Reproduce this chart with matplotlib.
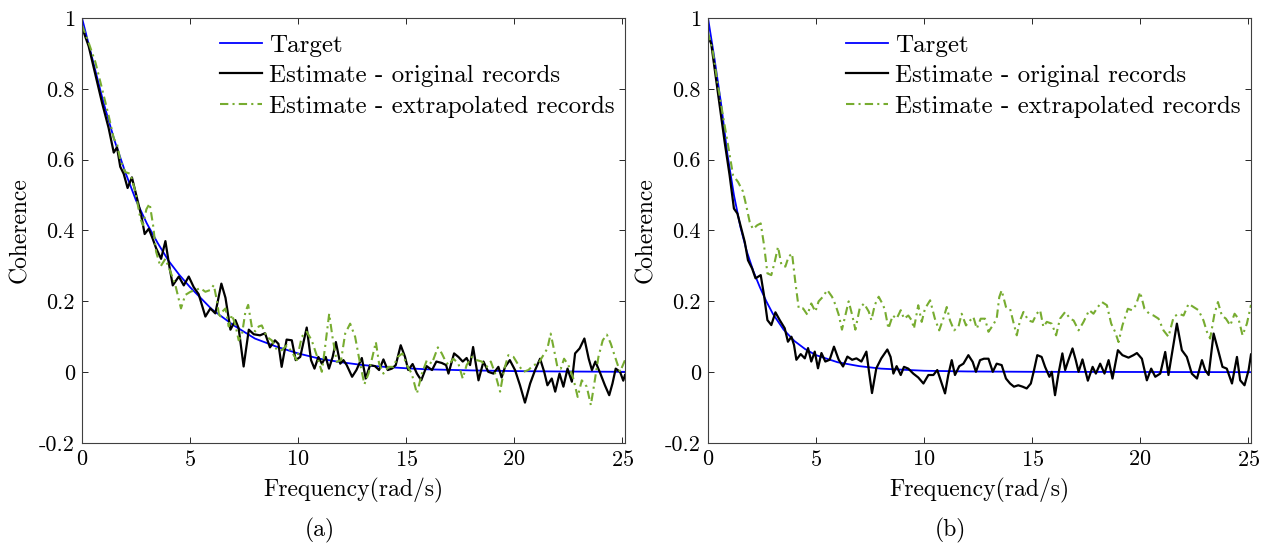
import matplotlib
matplotlib.use("Agg")
import matplotlib.pyplot as plt

plt.rcParams['font.family'] = ['cmr10', 'DejaVu Serif']
plt.rcParams['mathtext.fontset'] = 'cm'
plt.rcParams['axes.unicode_minus'] = False
plt.rcParams['axes.formatter.use_mathtext'] = True

# ---- (a) ----
w_tgt_a = [0, 0.5, 1, 1.5, 2, 2.5, 3, 3.5, 4, 4.5, 5, 6, 7, 8, 9, 10, 11, 12,
           13, 14, 15, 16, 18, 20, 22, 25.13]
tgt_a = [1.0, 0.88, 0.76, 0.655, 0.565, 0.485, 0.42, 0.365, 0.315, 0.275, 0.24,
         0.178, 0.133, 0.095, 0.072, 0.053, 0.038, 0.028, 0.02, 0.015, 0.011,
         0.008, 0.005, 0.003, 0.002, 0.001]

w_orig_a = [0, 0.31, 0.62, 0.93, 1.23, 1.47, 1.62, 1.77, 1.93, 2.11, 2.31, 2.55,
            2.75, 2.90, 3.09, 3.27, 3.43, 3.66, 3.86, 4.04, 4.20, 4.48, 4.71,
            4.94, 5.17, 5.40, 5.71, 5.94, 6.17, 6.45, 6.64, 6.87, 7.10, 7.25,
            7.48, 7.72, 7.95, 8.24, 8.47, 8.7, 8.93, 9.09, 9.24, 9.47, 9.71,
            9.89, 10.1, 10.4, 10.6, 10.76, 10.94, 11.1, 11.28, 11.43, 11.6,
            11.75, 11.95, 12.1, 12.25, 12.5, 12.7, 12.95, 13.13, 13.33, 13.56,
            13.75, 13.95, 14.15, 14.34, 14.52, 14.75, 14.95, 15.1, 15.3, 15.5,
            15.7, 15.95, 16.2, 16.4, 16.65, 16.85, 16.96, 17.22, 17.42, 17.62,
            17.8, 17.96, 18.1, 18.35, 18.58, 18.8, 19.04, 19.27, 19.42, 19.58,
            19.8, 20.04, 20.27, 20.5, 20.74, 20.97, 21.2, 21.39, 21.54, 21.74,
            21.9, 22.1, 22.28, 22.47, 22.67, 22.82, 23.03, 23.25, 23.45, 23.6,
            23.76, 23.99, 24.2, 24.4, 24.55, 24.7, 24.9, 25.05, 25.13]
orig_a = [0.974, 0.92, 0.84, 0.76, 0.69, 0.62, 0.635, 0.58, 0.56, 0.52, 0.55,
          0.49, 0.44, 0.39, 0.405, 0.377, 0.35, 0.32, 0.37, 0.30, 0.245, 0.27,
          0.245, 0.27, 0.24, 0.22, 0.157, 0.18, 0.166, 0.25, 0.21, 0.12, 0.147,
          0.124, 0.016, 0.12, 0.107, 0.104, 0.11, 0.07, 0.09, 0.08, 0.015,
          0.092, 0.09, 0.034, 0.043, 0.126, 0.034, 0.01, 0.043, 0.024, 0.043,
          0.01, 0.043, 0.085, 0.024, 0.034, 0.02, -0.013, 0.006, 0.04, -0.018,
          0.02, 0.017, 0.006, 0.036, 0.006, 0.01, 0.02, 0.076, 0.043, 0.006,
          0.023, -0.004, -0.023, 0.017, 0.006, 0.03, 0.026, 0.02, -0.004,
          0.053, 0.043, 0.03, 0.04, 0.02, 0.071, -0.023, 0.03, 0.001, -0.004,
          0.015, -0.015, 0.015, 0.034, 0.006, -0.037, -0.086, -0.032, 0.006,
          0.038, 0.001, -0.037, -0.018, -0.055, -0.004, -0.041, 0.01, -0.027,
          0.053, 0.067, 0.095, 0.038, 0.006, 0.03, -0.004, -0.037, -0.065,
          -0.032, 0.01, 0.001, -0.024, -0.008]

w_ext_a = [0, 0.31, 0.62, 0.93, 1.23, 1.47, 1.62, 1.77, 2.0, 2.24, 2.47, 2.7,
           2.82, 2.98, 3.13, 3.29, 3.43, 3.63, 3.86, 4.09, 4.32, 4.58, 4.78,
           5.02, 5.25, 5.48, 5.71, 5.94, 6.1, 6.25, 6.36, 6.48, 6.64, 6.79,
           6.94, 7.1, 7.25, 7.4, 7.56, 7.69, 7.87, 8.02, 8.18, 8.32, 8.55, 8.78,
           9.01, 9.24, 9.48, 9.71, 9.94, 10.17, 10.4, 10.63, 10.86, 11.1, 11.25,
           11.44, 11.59, 11.79, 11.99, 12.18, 12.41, 12.64, 12.87, 13.07, 13.26,
           13.44, 13.6, 13.75, 13.95, 14.18, 14.41, 14.61, 14.83, 15.03, 15.26,
           15.5, 15.73, 15.96, 16.19, 16.47, 16.65, 16.8, 16.96, 17.19, 17.42,
           17.62, 17.8, 18.04, 18.27, 18.5, 18.73, 18.92, 19.12, 19.35, 19.53,
           19.73, 19.97, 20.2, 20.43, 20.66, 20.89, 21.12, 21.35, 21.54, 21.69,
           21.85, 22.0, 22.16, 22.31, 22.51, 22.74, 22.94, 23.13, 23.36, 23.55,
           23.71, 23.9, 24.1, 24.29, 24.47, 24.67, 24.9, 25.13]
ext_a = [0.98, 0.93, 0.875, 0.80, 0.725, 0.66, 0.645, 0.60, 0.565, 0.56, 0.51,
         0.434, 0.415, 0.46, 0.476, 0.415, 0.34, 0.298, 0.32, 0.284, 0.246,
         0.18, 0.218, 0.227, 0.232, 0.237, 0.227, 0.232, 0.246, 0.2, 0.152,
         0.17, 0.18, 0.129, 0.162, 0.133, 0.09, 0.105, 0.17, 0.19, 0.124,
         0.115, 0.129, 0.132, 0.1, 0.09, 0.064, 0.062, 0.076, 0.057, 0.034,
         0.1, 0.114, 0.09, 0.048, 0.001, 0.071, 0.165, 0.1, 0.029, 0.034,
         0.109, 0.137, 0.1, 0.024, -0.034, -0.004, 0.043, 0.085, 0.024,
         -0.004, 0.015, 0.015, 0.043, 0.053, 0.02, -0.004, -0.06, -0.004,
         0.034, 0.024, 0.07, 0.053, 0.034, 0.02, 0.038, 0.024, -0.018, 0.02,
         0.043, 0.034, 0.03, 0.015, 0.03, -0.004, -0.055, 0.006, 0.048, 0.043,
         0.02, 0.001, 0.006, 0.02, 0.024, 0.048, 0.067, 0.109, 0.062, 0.015,
         0.01, 0.038, 0.02, -0.018, -0.07, -0.023, -0.041, -0.093, -0.032,
         0.043, 0.09, 0.106, 0.081, 0.043, 0.001, 0.034]

# ---- (b) ----
w_tgt_b = [0, 0.3, 0.6, 0.9, 1.2, 1.5, 1.8, 2.1, 2.4, 2.7, 3.0, 3.5, 4.0, 4.5,
           5, 6, 7, 8, 10, 12, 15, 25.13]
tgt_b = [1.0, 0.885, 0.76, 0.615, 0.5, 0.41, 0.34, 0.285, 0.24, 0.2, 0.165,
         0.12, 0.088, 0.065, 0.048, 0.028, 0.017, 0.01, 0.004, 0.002, 0.001, 0.0]

w_orig_b = [0, 0.15, 0.31, 0.54, 0.77, 1.0, 1.2, 1.36, 1.54, 1.7, 1.85, 2.04,
            2.2, 2.44, 2.59, 2.75, 2.93, 3.12, 3.32, 3.55, 3.7, 3.86, 3.98,
            4.09, 4.29, 4.48, 4.63, 4.78, 4.94, 5.09, 5.25, 5.43, 5.63, 5.83,
            6.05, 6.25, 6.45, 6.67, 6.87, 7.1, 7.33, 7.45, 7.59, 7.79, 8.02,
            8.3, 8.45, 8.58, 8.73, 8.92, 9.07, 9.27, 9.5, 9.73, 9.97, 10.2,
            10.43, 10.61, 10.77, 10.97, 11.12, 11.28, 11.43, 11.63, 11.82,
            12.05, 12.25, 12.4, 12.59, 12.77, 12.98, 13.18, 13.36, 13.59,
            13.79, 13.98, 14.16, 14.36, 14.56, 14.75, 14.94, 15.09, 15.24,
            15.44, 15.6, 15.8, 15.91, 16.06, 16.22, 16.4, 16.53, 16.68, 16.87,
            17.02, 17.15, 17.33, 17.58, 17.8, 17.95, 18.15, 18.35, 18.54, 18.72,
            18.97, 19.18, 19.46, 19.69, 19.85, 20.08, 20.31, 20.51, 20.7,
            20.93, 21.16, 21.31, 21.5, 21.7, 21.93, 22.16, 22.39, 22.63, 22.86,
            23.01, 23.17, 23.4, 23.63, 23.81, 24.01, 24.25, 24.48, 24.63,
            24.83, 25.02, 25.13]
orig_b = [0.95, 0.927, 0.856, 0.753, 0.65, 0.556, 0.462, 0.448, 0.406, 0.368,
          0.316, 0.293, 0.265, 0.274, 0.218, 0.147, 0.133, 0.169, 0.147, 0.124,
          0.086, 0.1, 0.077, 0.035, 0.051, 0.039, 0.068, 0.03, 0.058, 0.011,
          0.054, 0.03, 0.035, 0.072, 0.035, 0.016, 0.044, 0.035, 0.039, 0.03,
          0.058, 0.002, -0.059, 0.011, 0.039, 0.064, 0.043, -0.004, 0.017,
          -0.008, 0.015, 0.01, -0.004, -0.015, -0.032, -0.008, -0.008, 0.006,
          -0.023, -0.06, -0.008, 0.034, -0.008, 0.017, 0.024, 0.048, 0.029,
          0.001, 0.034, 0.038, 0.038, 0.001, 0.024, 0.02, -0.018, -0.032,
          -0.041, -0.037, -0.041, -0.046, -0.032, 0.006, 0.048, 0.043, 0.015,
          -0.013, 0.001, -0.065, -0.004, 0.053, 0.006, 0.034, 0.067, 0.034,
          0.001, 0.036, -0.024, 0.015, -0.004, 0.024, -0.004, 0.034, -0.018,
          0.062, 0.048, 0.041, 0.048, 0.054, 0.038, -0.023, 0.01, -0.013,
          -0.004, 0.057, -0.008, 0.062, 0.137, 0.062, 0.043, -0.004, -0.018,
          0.034, 0.006, -0.008, 0.109, 0.057, 0.015, 0.01, -0.032, 0.043,
          -0.023, -0.037, 0.006, 0.05]

w_ext_b = [0, 0.23, 0.46, 0.69, 0.93, 1.16, 1.39, 1.62, 1.77, 1.93, 2.08, 2.28,
           2.44, 2.59, 2.75, 2.93, 3.09, 3.24, 3.4, 3.58, 3.73, 3.89, 4.04,
           4.2, 4.4, 4.6, 4.78, 4.97, 5.12, 5.32, 5.52, 5.74, 5.9, 6.05, 6.2,
           6.36, 6.51, 6.67, 6.82, 7.02, 7.22, 7.44, 7.56, 7.72, 7.9, 8.1,
           8.19, 8.35, 8.55, 8.73, 8.92, 9.07, 9.27, 9.43, 9.53, 9.73, 9.89,
           10.04, 10.28, 10.5, 10.7, 10.89, 11.05, 11.2, 11.39, 11.59, 11.74,
           11.94, 12.13, 12.28, 12.44, 12.62, 12.82, 12.98, 13.18, 13.36,
           13.48, 13.59, 13.79, 13.98, 14.13, 14.29, 14.44, 14.6, 14.83,
           15.03, 15.21, 15.37, 15.52, 15.68, 15.91, 16.11, 16.29, 16.53,
           16.76, 16.92, 17.15, 17.38, 17.64, 17.84, 18.04, 18.23, 18.46,
           18.66, 18.84, 19.0, 19.18, 19.43, 19.62, 19.8, 20.0, 20.2, 20.42,
           20.62, 20.85, 21.08, 21.31, 21.55, 21.78, 22.01, 22.24, 22.47,
           22.7, 22.93, 23.09, 23.24, 23.44, 23.6, 23.78, 23.97, 24.17, 24.37,
           24.55, 24.74, 24.94, 25.13]
ext_b = [0.96, 0.903, 0.81, 0.725, 0.64, 0.556, 0.537, 0.51, 0.47, 0.424,
         0.404, 0.415, 0.42, 0.36, 0.279, 0.274, 0.312, 0.354, 0.302, 0.298,
         0.326, 0.335, 0.255, 0.18, 0.18, 0.162, 0.194, 0.171, 0.2, 0.213,
         0.232, 0.213, 0.19, 0.162, 0.12, 0.162, 0.2, 0.162, 0.12, 0.18,
         0.194, 0.171, 0.147, 0.19, 0.213, 0.19, 0.175, 0.123, 0.16, 0.151,
         0.175, 0.151, 0.16, 0.146, 0.123, 0.189, 0.142, 0.179, 0.203, 0.151,
         0.118, 0.151, 0.184, 0.146, 0.118, 0.128, 0.165, 0.132, 0.146, 0.156,
         0.123, 0.151, 0.151, 0.114, 0.132, 0.151, 0.212, 0.231, 0.184,
         0.179, 0.142, 0.104, 0.146, 0.17, 0.146, 0.142, 0.165, 0.175, 0.128,
         0.142, 0.137, 0.104, 0.151, 0.17, 0.151, 0.146, 0.118, 0.142, 0.175,
         0.165, 0.184, 0.198, 0.189, 0.137, 0.114, 0.085, 0.132, 0.179, 0.175,
         0.189, 0.226, 0.179, 0.165, 0.16, 0.151, 0.118, 0.1, 0.156, 0.165,
         0.16, 0.193, 0.184, 0.175, 0.146, 0.114, 0.095, 0.165, 0.198, 0.16,
         0.151, 0.132, 0.165, 0.151, 0.104, 0.137, 0.19]

yticks = [-0.2, 0, 0.2, 0.4, 0.6, 0.8, 1]
ytick_labels = ['-0.2', '0', '0.2', '0.4', '0.6', '0.8', '1']
xticks = [0, 5, 10, 15, 20, 25]
labels = ['Target', 'Estimate - original records', 'Estimate - extrapolated records']
green = '#77AC30'

fig = plt.figure(figsize=(12.71, 5.48), dpi=100)
ax_a = fig.add_axes([82 / 1271, 105 / 548, 543 / 1271, 425 / 548])
ax_b = fig.add_axes([708 / 1271, 105 / 548, 543 / 1271, 425 / 548])

panels = [
    (ax_a, w_tgt_a, tgt_a, w_orig_a, orig_a, w_ext_a, ext_a, '(a)', 320),
    (ax_b, w_tgt_b, tgt_b, w_orig_b, orig_b, w_ext_b, ext_b, '(b)', 950),
]

for ax, wt, t, wo, o, we, e, tag, xc in panels:
    ax.plot(wt, t, color='blue', lw=1.3, label=labels[0])
    ax.plot(wo, o, color='black', lw=1.6, label=labels[1])
    ax.plot(we, e, color=green, lw=1.5, dashes=(4, 2, 1, 2), label=labels[2])
    ax.set_xlim(0, 25.13)
    ax.set_ylim(-0.2, 1)
    ax.set_xticks(xticks)
    ax.set_yticks(yticks)
    ax.set_yticklabels(ytick_labels)
    ax.tick_params(direction='in', length=4, width=0.7, top=True, right=True,
                   labelsize=16, colors='#262626', labelcolor='black', pad=5)
    for s in ax.spines.values():
        s.set_color('#404040')
        s.set_linewidth(0.8)
    ax.set_xlabel('Frequency(rad/s)', fontsize=17, labelpad=6)
    ax.set_ylabel('Coherence', fontsize=17, labelpad=6)
    ax.legend(loc='upper left', bbox_to_anchor=(0.254, 0.962), frameon=False,
              fontsize=18, handlelength=1.7, handletextpad=0.25,
              labelspacing=0.32, borderpad=0, borderaxespad=0)
    fig.text(xc / 1271, 1 - 530 / 548, tag, fontsize=17, ha='center', va='center')

fig.savefig('out.png', dpi=100)
